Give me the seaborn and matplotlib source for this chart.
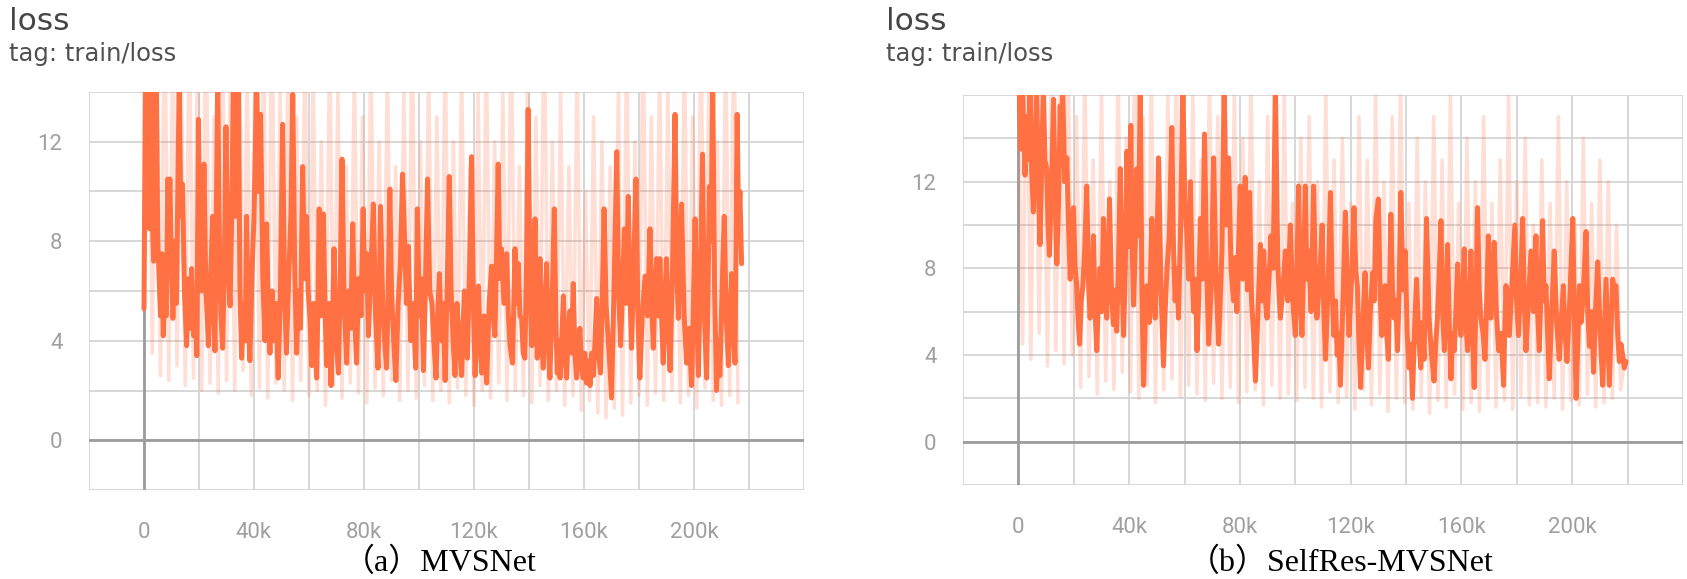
import numpy as np
import pandas as pd
import matplotlib
matplotlib.use("Agg")
import matplotlib.pyplot as plt
import seaborn as sns

# --- data ---

# (a) MVSNet, smoothed curve as (step in k, loss)
curve_a = [
    (0, 5.3), (0.5, 14.5), (1.0, 10.0), (1.5, 14.5), (2.0, 8.5), (2.5, 14.5), (3.0, 9.0),
    (3.5, 7.2), (4.0, 12.0), (4.5, 14.5), (5.0, 8.0), (5.5, 6.5), (6.0, 5.0), (6.5, 7.5),
    (7.0, 4.2), (7.5, 6.0), (8.1, 5.0), (8.6, 10.5), (9.0, 8.5), (9.4, 10.5), (10.0, 7.0),
    (10.5, 4.9), (11.2, 8.0), (11.8, 5.5), (12.3, 10.0), (12.8, 14.5), (13.4, 9.0), (14.0, 10.3),
    (14.7, 6.0), (15.5, 3.8), (16.3, 6.5), (16.8, 4.5), (17.3, 6.9), (18.0, 4.2), (18.6, 5.5),
    (19.2, 3.4), (19.8, 12.9), (20.4, 7.0), (21.0, 6.0), (21.8, 11.1), (22.5, 6.0), (23.0, 5.0),
    (23.4, 3.8), (24.2, 6.5), (25.0, 9.0), (25.4, 5.0), (25.8, 3.6), (26.8, 14.5), (27.5, 7.0),
    (28.0, 5.0), (28.6, 3.7), (29.2, 7.0), (29.8, 12.6), (30.5, 7.0), (31.3, 5.4), (31.9, 9.0),
    (32.5, 14.5), (33.3, 9.0), (34.3, 14.5), (34.9, 6.0), (35.5, 3.3), (36.2, 5.5), (36.8, 4.0),
    (37.3, 9.0), (37.9, 5.0), (38.5, 3.2), (39.2, 6.5), (40.0, 9.0), (41.0, 14.5), (41.6, 10.0),
    (42.4, 13.1), (43.2, 6.5), (44.0, 4.0), (44.6, 8.7), (45.2, 5.0), (45.8, 3.5), (46.6, 6.0),
    (47.2, 4.0), (48.0, 5.5), (48.8, 2.5), (49.6, 6.0), (50.4, 12.7), (51.1, 6.0), (51.8, 3.5),
    (52.6, 6.5), (53.4, 9.0), (54.1, 13.9), (54.8, 7.0), (55.5, 3.5), (56.2, 6.0), (56.9, 4.5),
    (57.7, 11.0), (58.4, 6.5), (59.1, 9.0), (59.7, 6.0), (60.3, 5.0), (61.0, 3.0), (61.7, 5.5),
    (62.3, 3.5), (62.8, 2.5), (63.3, 6.0), (63.7, 9.3), (64.4, 5.0), (65.2, 9.1), (65.8, 5.5),
    (66.4, 3.0), (67.2, 5.5), (68.0, 2.2), (68.5, 4.5), (69.1, 7.7), (69.9, 4.0), (70.7, 2.7),
    (71.3, 6.0), (72.0, 11.3), (72.8, 5.5), (73.7, 3.1), (74.4, 6.0), (75.2, 4.5), (75.9, 8.7),
    (76.6, 5.0), (77.3, 3.1), (78.0, 6.5), (78.9, 5.0), (79.7, 9.3), (80.3, 6.0), (81.0, 7.5),
    (81.6, 4.2), (82.4, 6.5), (83.4, 9.5), (84.2, 5.0), (85.1, 2.9), (85.6, 6.0), (86.0, 9.4),
    (86.8, 5.5), (87.5, 4.0), (88.2, 2.9), (88.8, 6.0), (89.4, 10.1), (90.0, 6.0), (90.8, 4.0),
    (91.6, 2.4), (92.4, 5.5), (93.2, 7.0), (94.0, 10.7), (94.8, 8.0), (95.4, 5.5), (96.1, 7.8),
    (97.0, 4.0), (97.8, 5.5), (98.8, 2.9), (99.4, 9.3), (100.2, 5.0), (100.9, 6.5), (101.6, 2.8),
    (102.3, 6.0), (103.1, 10.5), (103.9, 6.0), (104.7, 5.5), (105.4, 4.0), (106.2, 2.5),
    (106.8, 5.0), (107.4, 6.7), (108.2, 4.0), (108.8, 5.5), (109.5, 2.4), (110.2, 6.0),
    (111.0, 10.6), (111.7, 6.0), (112.4, 4.0), (113.1, 2.6), (113.8, 5.5), (114.6, 4.0),
    (115.5, 2.6), (116.0, 4.5), (116.5, 6.0), (117.1, 5.0), (117.6, 3.3), (118.4, 7.0),
    (119.1, 11.4), (119.8, 5.5), (120.4, 2.6), (121.0, 4.5), (121.6, 6.2), (122.2, 4.0),
    (122.8, 2.7), (123.7, 5.0), (124.6, 2.3), (125.5, 5.5), (126.4, 7.0), (127.0, 5.0),
    (127.6, 4.2), (128.2, 7.5), (128.8, 11.1), (129.4, 6.5), (130.0, 7.7), (130.9, 5.5),
    (131.9, 7.5), (132.5, 5.0), (133.1, 3.8), (134.0, 3.1), (134.9, 7.7), (135.5, 5.5),
    (136.1, 7.1), (136.7, 5.0), (137.3, 4.9), (137.9, 3.5), (138.5, 3.3), (139.1, 7.0),
    (139.7, 13.3), (140.4, 6.0), (141.0, 3.8), (141.6, 6.0), (142.2, 8.9), (142.6, 5.0),
    (143.0, 3.3), (143.5, 5.5), (144.0, 7.3), (144.6, 4.0), (145.2, 2.9), (145.8, 5.5),
    (146.4, 7.1), (147.0, 4.0), (147.6, 2.5), (148.4, 5.5), (149.2, 9.3), (149.8, 4.5),
    (150.3, 2.7), (150.8, 4.0), (151.3, 2.5), (151.9, 4.0), (152.5, 5.8), (153.1, 3.5),
    (153.7, 2.5), (154.3, 4.5), (154.9, 5.2), (155.5, 3.5), (156.1, 6.3), (156.7, 3.5),
    (157.3, 2.5), (157.9, 3.5), (158.5, 4.5), (159.1, 3.0), (159.7, 2.5), (160.3, 3.5),
    (160.9, 2.3), (161.6, 3.2), (162.2, 2.2), (162.8, 3.5), (163.4, 2.6), (164.0, 4.0),
    (164.6, 5.7), (165.3, 3.5), (166.0, 2.7), (166.7, 6.0), (167.3, 9.3), (168.0, 5.5),
    (168.8, 4.1), (169.4, 3.0), (170.0, 1.7), (170.9, 6.0), (171.9, 11.6), (172.6, 6.0),
    (173.3, 3.8), (174.0, 6.0), (174.7, 8.5), (175.4, 5.5), (176.1, 9.8), (176.7, 6.0),
    (177.3, 3.7), (178.1, 7.0), (178.9, 10.5), (179.6, 5.0), (180.3, 2.5), (181.2, 5.0),
    (182.2, 6.6), (183.1, 5.0), (184.0, 8.5), (184.6, 5.5), (185.2, 3.7), (185.8, 6.0),
    (186.4, 7.3), (187.0, 5.0), (187.6, 7.3), (188.2, 5.0), (188.8, 3.1), (189.4, 5.5),
    (190.0, 7.3), (190.6, 4.5), (191.3, 2.8), (192.2, 7.0), (193.1, 13.1), (193.7, 7.0),
    (194.3, 4.9), (194.9, 7.5), (195.5, 9.5), (196.4, 5.0), (197.3, 3.1), (198.2, 4.5),
    (199.1, 2.2), (199.7, 5.0), (200.4, 8.9), (201.0, 5.0), (201.6, 2.6), (202.3, 6.5),
    (203.1, 11.5), (203.8, 5.0), (204.6, 2.5), (205.1, 6.0), (205.6, 10.2), (206.2, 8.0),
    (206.8, 14.5), (207.5, 6.0), (208.2, 2.0), (208.8, 4.0), (209.4, 2.6), (210.2, 6.0),
    (211.0, 9.0), (211.7, 5.0), (212.5, 3.0), (213.1, 5.0), (213.7, 6.7), (214.3, 4.5),
    (214.9, 3.1), (215.3, 8.0), (215.7, 13.1), (216.2, 8.5), (216.7, 10.0), (217.3, 7.1),
]

# (a) MVSNet, raw values (logged every 1.5k steps)
raw_a = [5.2, 19, 3.5, 17, 2.6, 18, 2.4, 16, 3.0, 15, 2.2, 17, 2.5, 16,
         2.0, 18, 2.3, 13, 1.9, 17, 2.4, 16, 2.0, 19, 2.8, 15, 1.8, 17,
         2.1, 16, 1.7, 18, 2.3, 14, 2.0, 17, 1.6, 13, 2.4, 16, 1.8, 15,
         2.0, 12, 1.4, 16, 2.2, 14, 1.7, 11, 2.3, 15, 1.9, 13, 1.5, 16,
         2.1, 12, 1.8, 15, 2.4, 11, 1.6, 14, 2.0, 17, 1.7, 12, 2.2, 15,
         1.6, 13, 2.0, 16, 1.5, 12, 2.1, 15, 1.8, 11, 1.4, 14, 2.0, 16,
         1.7, 12, 2.3, 14, 1.6, 17, 2.0, 11, 1.8, 15, 1.5, 13, 2.2, 18,
         1.6, 12, 2.0, 14, 1.4, 11, 1.8, 15, 1.2, 10, 1.6, 13, 1.1, 12,
         0.9, 11, 1.3, 14, 1.0, 16, 1.5, 12, 1.8, 17, 1.4, 13, 1.9, 15,
         1.6, 14, 2.0, 12, 1.5, 16, 1.8, 13, 1.3, 17, 2.1, 15, 1.6, 12,
         1.4, 16, 1.8, 17, 1.5]

# (b) SelfRes-MVSNet, smoothed curve as (step in k, loss)
curve_b = [
    (0.3, 16.5), (0.9, 13.5), (1.5, 16.5), (2.0, 14.0), (2.4, 12.3), (3.0, 15.0), (3.6, 13.0),
    (4.2, 16.5), (4.8, 12.5), (5.4, 10.6), (6.0, 13.0), (6.6, 16.5), (7.2, 12.0), (7.8, 9.1),
    (8.4, 12.5), (9.0, 16.5), (9.6, 13.0), (10.2, 12.6), (10.7, 10.0), (11.2, 8.6), (12.0, 12.0),
    (12.7, 15.8), (13.3, 11.0), (13.9, 8.2), (14.5, 11.0), (15.1, 15.5), (15.5, 13.0),
    (16.0, 16.5), (16.7, 12.0), (17.5, 13.1), (18.1, 10.0), (18.7, 7.5), (19.3, 9.5),
    (19.9, 10.8), (20.5, 8.0), (21.1, 7.2), (21.6, 5.5), (22.1, 4.5), (22.7, 6.5), (23.3, 7.2),
    (24.0, 9.0), (24.7, 11.8), (25.3, 7.5), (25.9, 5.7), (26.5, 7.0), (27.1, 9.5), (27.7, 6.0),
    (28.3, 4.2), (28.9, 6.5), (29.5, 8.0), (30.1, 6.0), (30.7, 10.3), (31.3, 7.5), (31.9, 5.7),
    (32.4, 8.0), (32.9, 11.2), (33.6, 7.0), (34.3, 5.4), (34.9, 7.0), (35.5, 5.1), (36.1, 8.0),
    (36.8, 12.6), (37.4, 7.5), (38.0, 4.9), (38.6, 8.0), (39.2, 13.4), (39.9, 9.0), (40.6, 14.6),
    (41.1, 9.0), (41.6, 6.3), (42.2, 9.0), (42.8, 12.6), (43.4, 9.5), (44.0, 16.5), (44.6, 7.0),
    (45.2, 2.6), (45.8, 5.5), (46.4, 7.2), (47.3, 5.5), (48.2, 10.3), (48.8, 7.0), (49.4, 5.7),
    (50.0, 8.5), (50.6, 13.1), (51.5, 7.0), (52.4, 3.5), (53.0, 6.0), (53.6, 7.8), (54.5, 9.5),
    (55.4, 14.5), (56.0, 9.0), (56.6, 6.5), (57.2, 8.0), (57.8, 5.7), (58.6, 10.0), (59.4, 16.5),
    (60.1, 11.0), (60.9, 9.5), (61.5, 7.5), (62.1, 12.0), (62.7, 8.0), (63.3, 6.0), (63.9, 7.5),
    (64.5, 4.2), (65.1, 6.5), (65.7, 10.3), (66.5, 7.5), (67.2, 14.2), (68.0, 8.0), (68.7, 4.5),
    (69.6, 7.0), (70.5, 13.1), (71.4, 7.5), (72.3, 4.5), (72.9, 6.5), (73.5, 8.8), (74.3, 16.5),
    (75.1, 10.0), (75.9, 13.1), (76.8, 8.0), (77.7, 6.5), (78.3, 8.5), (78.9, 6.0), (79.5, 9.0),
    (80.1, 11.8), (81.0, 7.5), (81.9, 12.2), (82.7, 7.0), (83.5, 11.5), (84.2, 6.5), (84.9, 5.0),
    (85.6, 2.8), (86.5, 6.0), (87.4, 9.1), (88.0, 6.5), (88.6, 8.8), (89.2, 6.5), (89.8, 5.7),
    (90.5, 7.5), (91.2, 9.5), (92.0, 8.0), (92.8, 16.5), (93.7, 8.0), (94.6, 5.7), (95.5, 7.0),
    (96.4, 8.8), (97.3, 6.5), (98.2, 10.0), (99.1, 6.5), (100.0, 4.9), (100.6, 8.0),
    (101.2, 11.8), (101.8, 6.5), (102.4, 4.9), (103.0, 8.0), (103.6, 11.8), (104.2, 7.5),
    (104.8, 8.8), (105.7, 6.0), (106.6, 11.8), (107.2, 8.0), (107.8, 5.7), (108.8, 7.5),
    (109.7, 10.0), (110.3, 6.0), (110.9, 3.8), (111.8, 7.0), (112.7, 11.5), (113.3, 7.0),
    (113.9, 4.9), (114.5, 6.5), (115.1, 4.0), (115.7, 5.0), (116.3, 2.6), (117.2, 6.5),
    (118.1, 10.6), (118.8, 7.0), (119.4, 4.9), (120.3, 7.5), (121.2, 10.8), (121.8, 8.0),
    (122.4, 7.2), (123.0, 4.5), (123.6, 2.5), (124.4, 5.5), (125.2, 7.8), (125.8, 5.0),
    (126.4, 3.4), (127.1, 6.0), (127.9, 7.8), (128.5, 6.5), (129.1, 10.3), (130.0, 11.2),
    (130.6, 7.0), (131.2, 4.9), (131.8, 6.0), (132.4, 7.2), (133.0, 5.0), (133.6, 3.8),
    (134.5, 10.5), (135.1, 7.0), (135.7, 5.7), (136.3, 6.5), (136.9, 4.2), (137.5, 7.0),
    (138.1, 11.5), (138.9, 7.0), (139.7, 8.8), (140.4, 5.0), (141.1, 3.4), (141.7, 4.5),
    (142.3, 2.0), (143.0, 5.0), (143.8, 7.5), (144.5, 5.0), (145.3, 3.4), (145.9, 5.5),
    (146.5, 3.8), (147.4, 10.3), (148.3, 5.7), (149.2, 4.0), (150.1, 2.8), (150.7, 4.5),
    (151.3, 5.7), (151.9, 7.5), (152.6, 10.2), (153.2, 6.0), (153.8, 4.2), (154.4, 6.0),
    (155.0, 9.1), (155.6, 5.5), (156.2, 2.9), (156.8, 5.0), (157.4, 4.2), (158.0, 6.0),
    (158.6, 8.2), (159.2, 6.0), (159.8, 4.9), (160.4, 6.5), (161.0, 8.9), (161.6, 5.5),
    (162.2, 4.2), (162.8, 6.0), (163.4, 8.8), (164.0, 5.0), (164.6, 2.5), (165.2, 6.5),
    (165.8, 10.8), (166.4, 7.0), (167.0, 5.7), (167.8, 5.0), (168.5, 3.8), (169.1, 6.5),
    (169.7, 9.5), (170.1, 7.0), (170.6, 5.7), (171.2, 7.0), (171.8, 9.2), (172.6, 6.0),
    (173.4, 4.2), (174.3, 5.0), (175.2, 2.6), (175.6, 5.0), (176.1, 7.2), (176.7, 5.0),
    (177.3, 4.9), (178.3, 7.5), (179.3, 10.0), (179.9, 6.5), (180.6, 4.9), (181.3, 7.0),
    (182.1, 10.3), (182.7, 6.5), (183.3, 4.2), (184.2, 6.5), (185.1, 8.8), (186.0, 6.0),
    (186.9, 9.5), (187.5, 6.0), (188.1, 4.2), (188.7, 7.0), (189.3, 10.2), (189.9, 6.5),
    (190.5, 7.2), (191.1, 5.0), (191.7, 2.9), (192.6, 6.0), (193.5, 8.8), (194.4, 5.5),
    (195.3, 3.8), (196.0, 5.5), (196.8, 7.2), (197.4, 5.0), (198.1, 3.7), (199.1, 6.5),
    (200.2, 10.3), (200.8, 5.5), (201.4, 2.0), (202.0, 4.5), (202.6, 7.2), (203.2, 5.5),
    (203.8, 6.5), (204.4, 8.0), (205.0, 9.7), (205.6, 6.0), (206.2, 4.4), (207.0, 6.0),
    (207.7, 3.2), (208.4, 6.0), (209.2, 8.3), (210.1, 5.0), (211.0, 2.6), (211.6, 5.0),
    (212.2, 7.5), (212.8, 5.0), (213.4, 2.6), (214.0, 5.0), (214.6, 7.5), (215.2, 7.0),
    (215.8, 7.2), (216.4, 5.0), (217.0, 3.7), (217.6, 4.5), (218.2, 4.0), (218.8, 3.4),
    (219.4, 3.7),
]

# (b) SelfRes-MVSNet, raw values (logged every 1.5k steps)
raw_b = [16, 4.5, 19, 3.8, 18, 5.0, 17, 3.5, 19, 4.2, 18, 3.6, 17, 4.0,
         15, 2.5, 17, 3.0, 13, 2.2, 16, 2.8, 12, 2.4, 17, 3.2, 14, 2.3,
         18, 2.0, 15, 2.6, 17, 1.8, 13, 2.4, 16, 2.9, 18, 2.1, 14, 2.6,
         16, 2.2, 13, 1.9, 17, 2.7, 15, 2.0, 12, 2.5, 16, 1.8, 14, 2.3,
         17, 2.4, 12, 1.7, 15, 2.6, 13, 2.0, 16, 2.2, 11, 1.9, 14, 2.5,
         15, 2.0, 12, 1.6, 16, 2.3, 13, 1.8, 14, 2.1, 11, 1.5, 15, 2.4,
         13, 1.7, 16, 2.2, 12, 1.4, 15, 2.0, 17, 1.8, 11, 1.5, 14, 2.1,
         12, 1.3, 15, 1.9, 13, 1.6, 16, 2.2, 11, 1.5, 14, 1.8, 12, 1.4,
         15, 2.0, 11, 1.6, 13, 1.9, 16, 1.5, 12, 2.1, 14, 1.7, 10, 1.8,
         13, 1.6, 11, 2.0, 15, 1.5, 12, 1.9, 10, 1.7, 14, 2.2, 11, 1.6,
         13, 1.8, 12, 2.0, 10, 2.4, 3.9]

LOG_EVERY = 1500
ORANGE = '#ff7043'
GRID = '#d4d4d4'
TICK_TXT = '#a0a0a0'

panels = [
    dict(curve=curve_a, raw=raw_a, ymax=14, caption='（a）MVSNet',
         rect=[89 / 1687, 89 / 579, 715 / 1687, 398 / 579], title_x=9 / 1687, cap_x=440 / 1687),
    dict(curve=curve_b, raw=raw_b, ymax=16, caption='（b）SelfRes-MVSNet',
         rect=[963 / 1687, 94 / 579, 720 / 1687, 390 / 579], title_x=886 / 1687, cap_x=1341 / 1687),
]

sns.set_style('white')
plt.rcParams['font.family'] = ['Roboto', 'DejaVu Sans']

fig = plt.figure(figsize=(16.87, 5.79), dpi=100)

for p in panels:
    ax = fig.add_axes(p['rect'])
    ax.set_facecolor('white')

    steps, loss = zip(*p['curve'])
    smooth = pd.DataFrame({'step': np.array(steps) * 1000, 'loss': loss})
    raw = pd.DataFrame({'step': np.arange(len(p['raw'])) * LOG_EVERY, 'loss': p['raw']})

    ax.axhline(0, color='#9c9c9c', lw=2.0, zorder=1)
    ax.axvline(0, color='#9c9c9c', lw=2.0, zorder=1)

    # faint raw trace under the smoothed one, like tensorboard
    sns.lineplot(data=raw, x='step', y='loss', ax=ax, color=ORANGE, alpha=0.22, lw=2.6,
                 estimator=None, sort=False, zorder=2)
    sns.lineplot(data=smooth, x='step', y='loss', ax=ax, color=ORANGE, lw=3.6,
                 estimator=None, sort=False, zorder=3)

    ax.set_xlim(-20000, 240000)
    ax.set_ylim(-2, p['ymax'])

    xt = np.arange(-20000, 240001, 20000)
    ax.set_xticks(xt)
    ax.set_xticklabels(['0' if v == 0 else (f'{v // 1000}k' if v > 0 and v % 40000 == 0 and v <= 200000 else '')
                        for v in xt])
    yt = np.arange(-2, p['ymax'] + 1, 2)
    ax.set_yticks(yt)
    ax.set_yticklabels([str(v) if v >= 0 and v % 4 == 0 and v <= 12 else '' for v in yt])

    ax.grid(True, color=GRID, lw=1.3)
    ax.set_axisbelow(True)
    for s in ax.spines.values():
        s.set_visible(False)
    ax.tick_params(axis='both', length=6, width=1.3, color=GRID, labelcolor=TICK_TXT,
                   labelsize=16)
    ax.tick_params(axis='x', pad=17)
    ax.tick_params(axis='y', pad=13)
    ax.set_xlabel('')
    ax.set_ylabel('')

    fig.text(p['title_x'], 1 - 30 / 579, 'loss', fontsize=22.5, color='#454545',
             ha='left', va='baseline', family='DejaVu Sans')
    fig.text(p['title_x'], 1 - 61 / 579, 'tag: train/loss', fontsize=17.5, color='#505050',
             ha='left', va='baseline', family='DejaVu Sans')
    fig.text(p['cap_x'], 1 - 563 / 579, p['caption'], fontsize=23, color='black',
             ha='center', va='center', family=['Liberation Serif', 'Noto Sans CJK SC'])

fig.savefig('out.png', dpi=100)
